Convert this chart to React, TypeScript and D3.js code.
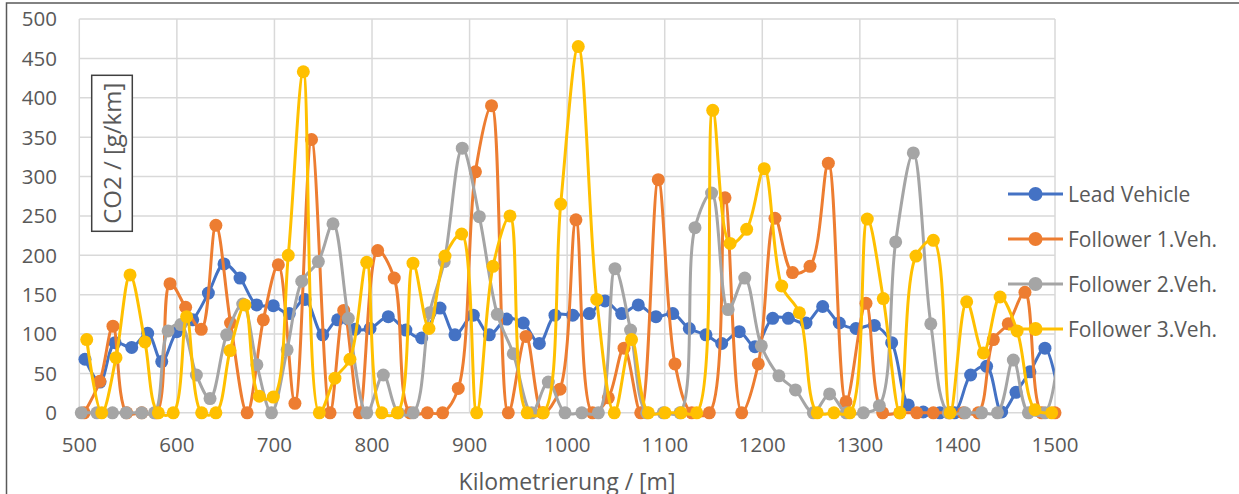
import React from "react";
import * as d3 from "d3";

const xTicks = [500, 600, 700, 800, 900, 1000, 1100, 1200, 1300, 1400, 1500];
const yTicks = [0, 50, 100, 150, 200, 250, 300, 350, 400, 450, 500];

const seriesNames = ["Lead Vehicle", "Follower 1.Veh.", "Follower 2.Veh.", "Follower 3.Veh."];
const seriesColors = ["#4472C4", "#ED7D31", "#A5A5A5", "#FFC000"];

const leadVehicle: [number, number][] = [
  [505.8, 68], [521.2, 39], [536.6, 89], [553.7, 83], [570.1, 101], [584.5, 65], [599.8, 103],
  [616.2, 118], [632.3, 152], [648.3, 189], [664.7, 171], [681.8, 137], [698.8, 136], [715.2, 126],
  [731.3, 144], [749.5, 99], [764.8, 118], [782.6, 106], [798, 107], [816.7, 122], [834.7, 105],
  [850.9, 95], [869.7, 133], [885, 99], [903.8, 124], [920.2, 99], [938, 119], [955, 114],
  [971.5, 88], [987.5, 124], [1005.7, 124], [1022.7, 126], [1038.8, 142], [1055.9, 126],
  [1072.9, 137], [1091, 122], [1108.2, 126], [1125.2, 107], [1142.3, 99], [1158.4, 88],
  [1176.4, 103], [1192.5, 84], [1210.7, 120], [1226.7, 120], [1244.8, 114], [1261.9, 135],
  [1278.9, 114], [1296, 107], [1314.8, 111], [1332.6, 89], [1349.6, 10], [1365, 1], [1382, 0],
  [1397, 0], [1413.5, 48], [1429.9, 59], [1445.3, 1], [1460, 26], [1474.3, 52], [1489.7, 82],
  [1505, 15],
];

const follower1: [number, number][] = [
  [505, 0], [521, 40], [534.5, 110], [548.6, 0], [564, 0], [579, 0], [593, 164], [609, 134],
  [625, 106], [640, 238], [655, 114], [672, 0], [688.6, 118], [704, 188], [721, 12], [738, 347],
  [757, 0], [771, 130], [787, 0], [805.8, 206], [822.8, 171], [839, 0], [856.7, 0], [872.4, 0],
  [888.4, 31], [906, 306], [922.5, 390], [939.7, 0], [957.8, 97], [974.9, 0], [992.7, 30],
  [1009, 245], [1026, 0], [1042.2, 19], [1058.3, 82], [1075.4, 0], [1093.4, 296], [1110.5, 62],
  [1127.7, 0], [1145.7, 0], [1161.8, 273], [1178.9, 0], [1195.9, 62], [1213, 247], [1231, 178],
  [1248.9, 186], [1267.7, 317], [1285.8, 14], [1306.3, 139], [1323.4, 0], [1341, 0], [1358.3, 0],
  [1375.3, 0], [1392, 0], [1406, 0], [1421.4, 0], [1436.8, 93], [1452.1, 113], [1469.2, 153],
  [1486.4, 0], [1500, 0],
];

const follower2: [number, number][] = [
  [502, 0], [518, 0], [534, 0], [548, 0], [564, 0], [577, 0], [591, 104], [604, 112], [620, 48],
  [634, 18], [651, 99], [667.5, 138], [682, 61], [697, 0], [713, 80], [728, 167], [745, 192],
  [760, 240], [775.7, 120], [794.6, 0], [811.6, 48], [827, 0], [842.3, 0], [859, 127], [874, 192],
  [892.5, 336], [910, 249], [928.4, 125], [944.8, 75], [963.6, 0], [980.7, 39], [997.8, 0],
  [1015, 0], [1032, 0], [1049, 183], [1065, 105], [1081.5, 0], [1098.5, 0], [1115.6, 0],
  [1131, 235], [1148, 279], [1165, 131], [1182, 171], [1199, 85], [1217, 47], [1234, 29],
  [1252.3, 0], [1269, 24], [1286, 0], [1303.6, 0], [1320, 9], [1336.7, 217], [1354.8, 330],
  [1372.7, 113], [1390.7, 0], [1407.8, 0], [1424.9, 0], [1441, 0], [1457.3, 67], [1472.7, 0],
  [1489.8, 0], [1506, 115],
];

const follower3: [number, number][] = [
  [507.6, 93], [523, 0], [537.6, 70], [552, 175], [567.3, 90], [581, 0], [596.3, 0], [610, 122],
  [625.4, 0], [640, 0], [654.5, 79], [669.8, 137], [684.5, 21], [698.8, 20], [714.2, 200],
  [729.6, 433], [746, 0], [762, 44], [777.4, 68], [794.6, 191], [810, 0], [826, 0], [842, 190],
  [858.4, 107], [874.8, 199], [891.9, 227], [907.3, 0], [924, 186], [941.4, 250], [959, 0],
  [975.6, 0], [993.4, 265], [1011.4, 465], [1030.3, 144], [1048.3, 0], [1066, 93], [1083.2, 0],
  [1100.3, 0], [1116.7, 0], [1132.8, 0], [1149.2, 384], [1167, 215], [1184, 233], [1202, 310],
  [1219.9, 161], [1238, 127], [1256.3, 0], [1273.4, 0], [1289.8, 0], [1307.6, 246], [1324, 145],
  [1341, 0], [1357.5, 199], [1375.3, 219], [1392.5, 0], [1409.5, 141], [1426.6, 76],
  [1443.7, 147], [1461.2, 104], [1479.5, 4], [1496.6, 0],
];

const allSeries = [leadVehicle, follower1, follower2, follower3];

const W = 1239;
const H = 494;
const FONT = "'Open Sans', 'DejaVu Sans', sans-serif";
const TEXT = "#595959";

export default function App() {
  const x = d3.scaleLinear().domain([500, 1500]).range([79.3, 1055]);
  const y = d3.scaleLinear().domain([0, 500]).range([412.8, 19]);
  const line = d3
    .line<[number, number]>()
    .x((d) => x(d[0]))
    .y((d) => y(d[1]))
    .curve(d3.curveCatmullRom.alpha(0.5));

  const [x0, x1] = x.range();
  const [y0, y1] = y.range();

  return (
    <svg
      width={W}
      height={H}
      style={{ position: "absolute", left: 0, top: 0, display: "block", background: "#fff" }}
      fontFamily={FONT}
    >
      <defs>
        <clipPath id="plotClip">
          <rect x={x0} y={y1 - 10} width={x1 - x0} height={y0 - y1 + 20} />
        </clipPath>
      </defs>
      <rect x={0} y={0} width={W} height={H} fill="#fff" />
      <rect x={6.5} y={3} width={W + 50} height={H + 50} fill="none" stroke="#595959" strokeWidth={1.5} />

      {/* gridlines */}
      <g stroke="#D9D9D9" strokeWidth={1.5}>
        {yTicks.map((t) => (
          <line key={"h" + t} x1={x0} x2={x1} y1={y(t)} y2={y(t)} />
        ))}
        {xTicks.map((t) => (
          <line key={"v" + t} x1={x(t)} x2={x(t)} y1={y1} y2={y0} />
        ))}
      </g>

      {/* y tick labels */}
      <g fill={TEXT} fontSize={20.5} textAnchor="end">
        {yTicks.map((t) => (
          <text key={"yl" + t} x={57} y={y(t)} dy="0.36em">
            {t}
          </text>
        ))}
      </g>
      {/* x tick labels */}
      <g fill={TEXT} fontSize={20.5} textAnchor="middle">
        {xTicks.map((t) => (
          <text key={"xl" + t} x={x(t)} y={452}>
            {t}
          </text>
        ))}
      </g>

      {/* y title box */}
      <rect x={91.7} y={75.3} width={40.6} height={156} fill="#fff" stroke="#404040" strokeWidth={1.5} />
      <text
        transform={`translate(121,153.3) rotate(-90)`}
        textAnchor="middle"
        fill={TEXT}
        fontSize={24}
      >
        CO2 / [g/km]
      </text>

      {/* x title */}
      <text x={567} y={490} textAnchor="middle" fill={TEXT} fontSize={23}>
        Kilometrierung / [m]
      </text>

      {/* series */}
      {allSeries.map((s, i) => (
        <g key={"s" + i}>
          <path
            d={line(s) || ""}
            fill="none"
            stroke={seriesColors[i]}
            strokeWidth={3}
            strokeLinejoin="round"
            clipPath="url(#plotClip)"
          />
          {s
            .filter((d) => d[0] >= 500 && d[0] <= 1500)
            .map((d, j) => (
              <circle key={j} cx={x(d[0])} cy={y(d[1])} r={6.5} fill={seriesColors[i]} />
            ))}
        </g>
      ))}

      {/* legend */}
      {seriesNames.map((n, i) => {
        const cy = 194 + i * 45;
        return (
          <g key={"lg" + i}>
            <line x1={1008} x2={1063} y1={cy} y2={cy} stroke={seriesColors[i]} strokeWidth={3} />
            <circle cx={1035.5} cy={cy} r={7} fill={seriesColors[i]} />
            <text x={1068} y={cy} dy="0.36em" fill={TEXT} fontSize={21}>
              {n}
            </text>
          </g>
        );
      })}
    </svg>
  );
}
